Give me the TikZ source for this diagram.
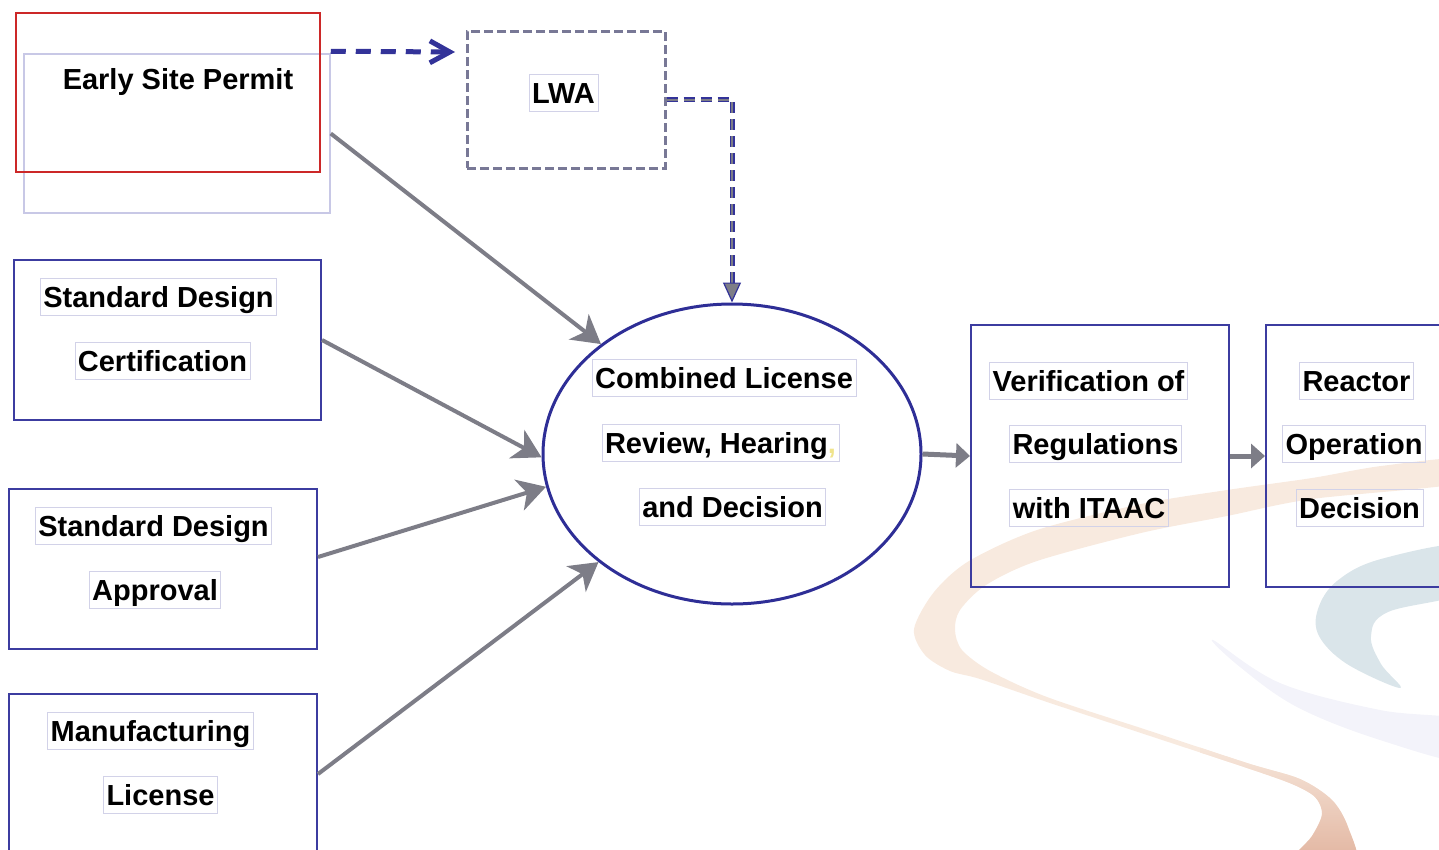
\documentclass[tikz,border=0pt]{standalone}
\usepackage{fontspec}
\setmainfont{Liberation Sans}
\usetikzlibrary{arrows.meta,calc,shapes.geometric}

\definecolor{frameblue}{RGB}{60,60,160}
\definecolor{ringblue}{RGB}{46,46,150}
\definecolor{dashblue}{RGB}{51,51,153}
\definecolor{arrowgray}{RGB}{125,125,135}
\definecolor{lwagray}{RGB}{120,120,150}
\definecolor{labelline}{RGB}{210,210,232}
\definecolor{permitred}{RGB}{204,40,40}
\definecolor{backlav}{RGB}{200,200,230}
\definecolor{commayellow}{RGB}{240,228,140}
\definecolor{peachlight}{RGB}{248,234,223}
\definecolor{peachdark}{RGB}{228,186,166}
\definecolor{swirlblue}{RGB}{150,180,195}
\definecolor{swirllav}{RGB}{200,200,230}

\tikzset{
  panel/.style={draw=frameblue, line width=2pt, inner sep=0pt},
  label/.style={draw=labelline, line width=0.8pt, inner xsep=3pt, inner ysep=2pt,
    text height=27pt, text depth=6pt, font=\bfseries\fontsize{29}{34}\selectfont},
  feed/.style={draw=arrowgray, line width=4pt,
    -{Stealth[length=28pt,width=32pt,inset=8pt,fill=arrowgray]}},
  shortfeed/.style={draw=arrowgray, line width=5pt,
    -{Triangle[length=14pt,width=24pt,fill=arrowgray]}},
}

\begin{document}
\begin{tikzpicture}[x=1pt,y=-1pt]
\useasboundingbox (0,0) rectangle (1439,849);
\clip (0,0) rectangle (1439,849);

% decorative swirl bands in the lower right
\begin{scope}
  \clip plot[smooth cycle, tension=0.5] coordinates {
  (1470,458) (1381,466) (1312,478) (1227,490) (1141,504) (1037,530) (969,561)
  (934,592) (914,629) (925,655) (950,671) (980,679) (1047,702) (1147,735)
  (1247,768) (1292,784) (1315,797) (1322,814) (1312,836) (1290,866)
  (1355,866) (1348,827) (1332,800) (1300,779) (1247,763) (1147,730)
  (1047,697) (990,671) (962,650) (955,630) (960,610) (986,585) (1037,561)
  (1141,533) (1227,516) (1312,499) (1470,482)};
  \fill[peachlight] (900,440) rectangle (1470,870);
  \shade[top color=peachlight, bottom color=peachdark] (1200,740) rectangle (1370,850);
\end{scope}
\fill[swirlblue, fill opacity=0.35] plot[smooth cycle, tension=0.6] coordinates {
  (1470,545) (1381,559) (1337,581) (1318,609) (1319,636) (1347,664) (1400,688)
  (1381,664) (1371,636) (1388,612) (1470,590)};
\fill[swirllav, fill opacity=0.22] plot[smooth cycle, tension=0.6] coordinates {
  (1213,640) (1280,683) (1380,710) (1470,722) (1470,762) (1380,740) (1297,707) (1240,667)};

% frames
\node[draw=backlav, line width=1.5pt, minimum width=306pt, minimum height=159pt] (espback) at (177,133.5) {};
\node[draw=permitred, line width=2pt, minimum width=304pt, minimum height=159pt] (esp) at (168,92.5) {};
\node[draw=lwagray, line width=3pt, dash pattern=on 9pt off 4pt, minimum width=198pt, minimum height=137pt] (lwa) at (566,99.5) {};
\node[panel, minimum width=307pt, minimum height=160pt] (sdc) at (167.5,340) {};
\node[panel, minimum width=308pt, minimum height=160pt] (sda) at (163,569) {};
\node[panel, minimum width=308pt, minimum height=180pt] (ml) at (163,784) {};
\node[panel, minimum width=258pt, minimum height=262pt] (ver) at (1100,456) {};
\node[panel, minimum width=204pt, minimum height=262pt] (rod) at (1368,456) {};
\node[ellipse, draw=ringblue, line width=3pt, inner sep=0pt, minimum width=378pt, minimum height=300pt] (col) at (732,454) {};

% connectors
\coordinate (lwain) at (455,52);
\draw[dashblue, line width=5pt, dash pattern=on 15pt off 10pt,
  -{Straight Barb[length=20pt,width=22pt]}] ($(espback.north east)+(0,-2)$) -- (lwain);

\draw[dashblue, line width=5pt, dash pattern=on 11pt off 6pt, shorten >=18pt] (lwa.east) -| (col.north);
\draw[arrowgray, line width=2pt, dash pattern=on 11pt off 6pt,
  -{Triangle[length=20pt,width=18pt,fill=arrowgray,color=dashblue,line width=1.2pt]}] (lwa.east) -| (col.north);

\draw[feed] (espback.east) -- (col.140);
\draw[feed] (sdc.east) -- (col.181);
\draw[feed] ($(sda.east)+(0,-12)$) -- (col.190);
\draw[feed] ($(ml.north east)+(0,81)$) -- (col.219);

\draw[shortfeed] (col.east) -- (ver.west);
\draw[shortfeed] (ver.east) -- (rod.west);

% texts
\node[label, draw=none] (esp-t) at (178,79) {Early Site Permit};
\node[label] (lwa-t) at (563.5,93) {LWA};

\node[label] (sdc-a) at (158.5,297) {Standard Design};
\node[label] (sdc-b) at (162.5,361) {Certification};

\node[label] (sda-a) at (153.5,526) {Standard Design};
\node[label] (sda-b) at (155,590) {Approval};

\node[label] (ml-a) at (150.5,731) {Manufacturing};
\node[label] (ml-b) at (160.5,795) {License};

\node[label] (col-a) at (724,378) {Combined License\hspace{8pt}};
\node[label] (col-b) at (720.5,443) {Review, Hearing{\color{commayellow},}};
\node[label] (col-c) at (732.5,507) {and Decision};

\node[label] (ver-a) at (1088.5,381) {Verification of\hspace{8pt}};
\node[label] (ver-b) at (1095.5,444) {Regulations};
\node[label] (ver-c) at (1089,508) {with ITAAC};

\node[label] (rod-a) at (1356.5,381) {Reactor};
\node[label] (rod-b) at (1354,444) {Operation};
\node[label] (rod-c) at (1359.5,508) {Decision};
\end{tikzpicture}
\end{document}
